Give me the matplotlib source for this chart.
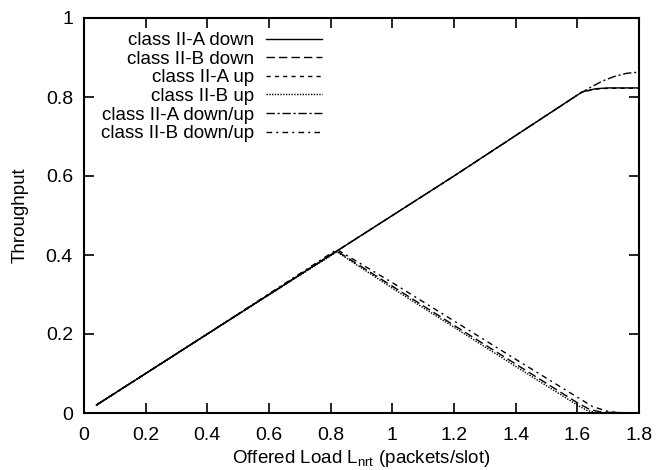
import matplotlib
matplotlib.use("Agg")
import matplotlib.pyplot as plt

plt.rcParams['font.family'] = ['Liberation Sans', 'DejaVu Sans']
plt.rcParams['mathtext.fontset'] = 'custom'
plt.rcParams['mathtext.rm'] = 'Liberation Sans'

# offered load (packets/slot) and throughput per class / direction
load_a_down = [0.04, 0.4, 0.8, 1.2, 1.616, 1.66, 1.7, 1.8]
thr_a_down = [0.02, 0.20, 0.40, 0.60, 0.813, 0.821, 0.823, 0.823]

load_a_up = [0.04, 0.4, 0.8, 1.2, 1.616, 1.66, 1.7, 1.8]
thr_a_up = [0.02, 0.20, 0.40, 0.60, 0.813, 0.820, 0.822, 0.822]

load_a_du = [0.04, 0.4, 0.8, 1.2, 1.6, 1.64, 1.68, 1.72, 1.76, 1.8]
thr_a_du = [0.02, 0.20, 0.40, 0.60, 0.805, 0.823, 0.840, 0.852, 0.860, 0.863]

load_b_down = [0.04, 0.4, 0.82, 1.0, 1.2, 1.4, 1.6, 1.64, 1.68, 1.8]
thr_b_down = [0.02, 0.20, 0.410, 0.321, 0.222, 0.124, 0.026, 0.009, 0.002, 0.0]

load_b_up = [0.04, 0.4, 0.82, 1.0, 1.2, 1.4, 1.6, 1.63, 1.66, 1.8]
thr_b_up = [0.02, 0.20, 0.408, 0.316, 0.217, 0.118, 0.020, 0.007, 0.001, 0.0]

load_b_du = [0.04, 0.4, 0.82, 1.0, 1.2, 1.4, 1.6, 1.65, 1.7, 1.74, 1.8]
thr_b_du = [0.02, 0.20, 0.414, 0.330, 0.233, 0.136, 0.040, 0.016, 0.004, 0.0, 0.0]

x_ticks = [0, 0.2, 0.4, 0.6, 0.8, 1, 1.2, 1.4, 1.6, 1.8]
x_labels = ['0', '0.2', '0.4', '0.6', '0.8', '1', '1.2', '1.4', '1.6', '1.8']
y_ticks = [0, 0.2, 0.4, 0.6, 0.8, 1]
y_labels = ['0', '0.2', '0.4', '0.6', '0.8', '1']

fig = plt.figure(figsize=(6.57, 4.70), dpi=100)
ax = fig.add_axes([84 / 657, 57 / 470, 555 / 657, 395 / 470])

lw = 1.0
ax.plot(load_a_down, thr_a_down, color='black', lw=lw, ls='-', label='class II-A down')
ax.plot(load_b_down, thr_b_down, color='black', lw=lw, ls=(0, (6, 3)), label='class II-B down')
ax.plot(load_a_up, thr_a_up, color='black', lw=lw, ls=(0, (3, 3)), label='class II-A up')
ax.plot(load_b_up, thr_b_up, color='black', lw=lw, ls=(0, (1, 1)), label='class II-B up')
ax.plot(load_a_du, thr_a_du, color='black', lw=lw, ls=(0, (6, 2, 1.5, 2)), label='class II-A down/up')
ax.plot(load_b_du, thr_b_du, color='black', lw=lw, ls=(0, (4, 3, 1.5, 3)), label='class II-B down/up')

ax.set_xlim(0, 1.8)
ax.set_ylim(0, 1)
ax.set_xticks(x_ticks)
ax.set_xticklabels(x_labels)
ax.set_yticks(y_ticks)
ax.set_yticklabels(y_labels)
ax.tick_params(direction='in', length=7.5, width=1.2, top=True, right=True,
               labelsize=14, pad=8)
ax.tick_params(axis='x', pad=10)
for sp in ax.spines.values():
    sp.set_linewidth(1.5)

ax.set_xlabel('Offered Load L$_\\mathregular{nrt}$ (packets/slot)', fontsize=13.5, labelpad=3)
ax.set_ylabel('Throughput', fontsize=13.5, labelpad=12)

ax.legend(loc='upper right', bbox_to_anchor=(322 / 657, (470 - 32) / 470),
          bbox_transform=fig.transFigure,
          frameon=False, markerfirst=False, fontsize=13.5, handlelength=3.0,
          handletextpad=0.6, labelspacing=0.08, borderpad=0, borderaxespad=0)

fig.savefig('out.png', dpi=100)
